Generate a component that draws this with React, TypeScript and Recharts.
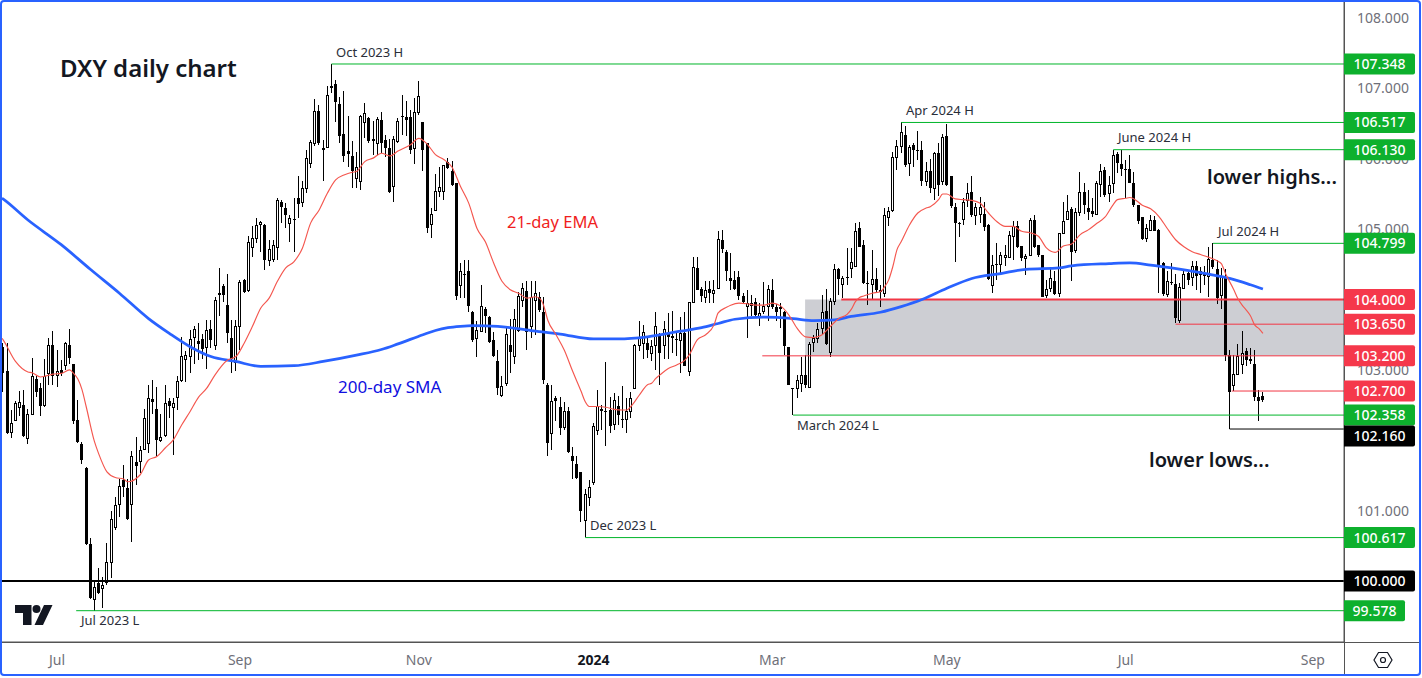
import { Bar, ComposedChart, Line, ReferenceArea, ReferenceLine, XAxis, YAxis } from 'recharts';

// daily OHLC, one row of ten bars per line
const opens = [
  103.33,102.98,102.12,102.29,102.48,102.50,102.03,102.38,102.87,102.74,
  102.50,102.96,103.36,102.93,103.00,103.07,103.36,103.08,102.29,101.95,
  101.60,100.52,99.75,99.97,99.90,99.99,100.27,100.77,101.09,101.44,
  101.32,101.10,101.69,101.70,101.87,101.96,102.59,102.45,102.01,102.07,
  102.56,102.48,102.62,102.85,103.15,103.20,103.47,103.41,103.44,103.33,
  103.58,103.36,104.10,104.19,103.92,103.45,103.11,103.62,104.28,104.13,
  104.75,104.87,105.07,105.06,104.56,104.58,104.74,105.39,105.30,105.09,
  105.14,105.44,105.38,105.58,105.94,106.22,106.68,106.16,106.17,107.03,
  107.07,106.78,106.36,106.11,106.04,105.73,105.68,106.53,106.58,106.28,
  106.22,106.55,106.27,106.16,105.61,106.25,106.61,106.59,106.59,106.16,
  106.67,106.52,106.22,105.07,105.27,105.54,105.54,105.95,105.82,105.65,
  104.21,104.37,104.40,103.83,103.46,103.55,103.87,103.75,103.42,103.13,
  102.64,102.82,103.36,103.20,103.57,104.00,104.12,103.63,104.00,104.04,
  103.82,102.79,102.10,102.60,102.47,102.19,102.41,101.78,101.66,101.55,
  100.86,101.20,101.41,102.15,102.45,102.41,102.43,102.23,102.49,102.30,
  102.30,102.42,102.74,103.36,103.38,103.38,103.24,103.36,103.51,103.36,
  103.52,103.48,103.44,103.42,103.52,102.99,103.96,104.45,104.15,104.03,
  104.15,104.09,104.17,104.85,104.67,104.30,104.28,104.32,104.05,103.91,
  103.92,103.96,103.77,103.84,103.91,104.14,103.89,103.89,103.82,103.32,
  102.74,102.74,102.82,102.93,102.76,103.39,103.45,103.59,103.84,103.25,
  103.98,104.43,104.22,104.32,104.45,104.48,105.01,104.78,104.24,104.22,
  104.29,104.14,104.10,105.18,105.27,106.02,106.18,106.34,105.94,106.20,
  106.13,106.12,105.69,105.83,105.58,106.09,105.68,106.33,105.75,105.31,
  105.09,105.14,105.41,105.53,105.20,105.21,105.22,105.06,104.20,104.51,
  104.50,104.60,104.61,104.90,105.04,104.76,104.59,104.64,105.13,104.78,
  104.64,104.06,104.17,104.26,104.10,104.94,105.15,105.28,104.70,105.24,
  105.53,105.30,105.26,105.21,105.64,105.84,105.51,105.66,106.07,105.93,
  105.85,105.85,105.66,105.34,105.17,104.87,104.99,105.13,104.99,104.52,
  104.08,104.25,104.22,103.71,104.16,104.38,104.32,104.48,104.36,104.36,
  104.34,104.56,104.43,104.07,104.32,103.21,102.78,102.94,103.09,103.27,
  103.15,103.09,102.61,102.63,
];
const closes = [
  102.95,102.11,102.24,102.53,102.54,102.06,102.38,102.91,102.69,102.49,
  102.91,103.36,102.91,102.99,102.96,103.38,103.17,102.27,101.97,101.72,
  100.52,99.76,99.91,99.83,99.94,100.27,100.88,101.08,101.35,101.34,
  100.88,101.78,101.63,101.86,102.31,102.60,102.54,102.01,102.05,102.53,
  102.49,102.53,102.84,103.20,103.21,103.44,103.58,103.37,103.30,103.57,
  103.42,104.00,104.07,104.06,103.53,103.16,103.63,104.25,104.11,104.82,
  104.87,105.06,105.10,104.56,104.72,104.78,105.42,105.32,105.20,105.16,
  105.13,105.36,105.58,106.01,106.24,106.68,106.22,106.12,106.91,107.00,
  106.81,106.33,106.04,106.07,105.82,105.89,106.61,106.65,106.25,106.26,
  106.56,106.22,106.16,105.53,106.28,106.54,106.59,106.55,106.12,106.66,
  106.90,106.12,105.02,105.21,105.54,105.60,105.91,105.87,105.63,104.05,
  104.40,104.36,103.91,103.43,103.57,103.91,103.77,103.40,103.20,102.75,
  102.77,103.51,103.26,103.72,104.05,104.16,103.54,104.04,104.10,103.85,
  102.86,101.96,102.56,102.56,102.17,102.42,101.84,101.70,101.46,100.99,
  101.23,101.33,102.20,102.49,102.42,102.40,102.20,102.57,102.36,102.29,
  102.42,102.60,103.36,103.45,103.54,103.28,103.34,103.63,103.24,103.58,
  103.47,103.46,103.42,103.52,103.06,103.96,104.46,104.14,104.05,104.13,
  104.09,104.14,104.86,104.72,104.40,104.27,104.15,104.05,103.97,103.95,
  103.95,103.78,103.81,103.91,104.15,103.89,103.83,103.87,103.34,102.79,
  102.73,102.86,102.93,102.78,103.37,103.45,103.58,103.82,103.37,103.98,
  104.43,104.29,104.30,104.30,104.54,104.97,104.75,104.23,104.22,104.29,
  104.13,104.11,105.20,105.26,106.02,106.18,106.38,105.91,106.17,106.12,
  106.12,105.68,105.83,105.58,106.09,105.63,106.31,105.63,105.33,105.09,
  105.08,105.38,105.51,105.20,105.31,105.31,105.03,104.29,104.49,104.50,
  104.64,104.63,104.92,105.05,104.74,104.59,104.62,105.13,104.74,104.63,
  104.04,104.15,104.30,104.08,104.94,105.11,105.26,104.68,105.25,105.53,
  105.35,105.25,105.22,105.65,105.83,105.48,105.63,106.06,105.94,105.85,
  105.84,105.66,105.35,105.12,104.86,105.01,105.13,104.98,104.49,104.08,
  104.26,104.24,103.74,104.18,104.37,104.28,104.48,104.34,104.41,104.33,
  104.58,104.46,104.02,104.34,103.21,102.68,102.94,103.20,103.24,103.14,
  103.13,102.61,102.56,102.57,
];
const highs = [
  103.38,103.38,102.43,102.56,102.70,102.72,102.45,103.17,102.91,102.81,
  103.15,103.45,103.55,103.28,103.14,103.39,103.58,103.09,102.57,101.97,
  101.62,100.61,100.02,100.18,100.06,100.54,100.99,101.20,101.45,101.65,
  101.45,101.85,102.05,101.92,102.45,102.78,102.86,102.76,102.38,102.79,
  102.60,102.60,102.91,103.47,103.27,103.57,103.62,103.67,103.51,103.71,
  103.71,104.04,104.45,104.22,104.36,103.71,103.71,104.28,104.29,104.90,
  105.04,105.16,105.11,105.07,104.85,104.85,105.45,105.42,105.37,105.20,
  105.44,105.75,105.68,106.13,106.27,106.85,106.77,106.27,107.03,107.35,
  107.12,106.88,106.97,106.61,106.25,106.10,106.63,106.80,106.60,106.54,
  106.60,106.67,106.34,106.28,106.32,106.58,106.91,106.82,106.70,106.86,
  107.11,106.53,106.23,105.30,105.78,105.88,105.91,106.01,105.97,105.66,
  104.52,104.56,104.56,103.84,103.70,104.21,103.90,103.76,103.54,103.28,
  102.91,103.59,103.73,103.86,104.11,104.23,104.26,104.27,104.27,104.11,
  104.03,102.81,102.78,102.63,102.62,102.55,102.47,101.90,101.78,101.55,
  101.31,101.44,102.25,102.72,102.50,103.11,102.62,102.67,102.63,102.77,
  102.60,102.68,103.37,103.69,103.64,103.45,103.43,103.82,103.52,103.69,
  103.81,103.84,103.52,103.75,103.83,103.97,104.60,104.60,104.18,104.26,
  104.27,104.28,104.98,104.99,104.71,104.66,104.40,104.41,104.09,104.14,
  104.07,104.02,103.95,104.25,104.21,104.29,103.94,103.95,103.84,103.33,
  102.74,102.93,103.18,103.21,103.40,103.50,103.66,104.07,104.15,104.02,
  104.51,104.45,104.33,104.73,104.73,105.09,105.10,104.85,104.40,104.71,
  104.45,104.21,105.30,105.32,106.10,106.27,106.52,106.46,106.20,106.22,
  106.40,106.25,105.96,106.00,106.10,106.22,106.36,106.50,105.75,105.37,
  105.10,105.44,105.65,105.75,105.37,105.46,105.38,105.07,104.64,104.81,
  104.68,104.78,104.97,105.12,105.11,104.76,104.65,105.16,105.20,104.78,
  104.64,104.28,104.46,104.40,104.94,105.39,105.49,105.32,105.30,105.81,
  105.66,105.56,105.44,105.68,105.93,105.89,105.75,106.13,106.10,106.13,
  105.99,106.06,105.81,105.35,105.18,105.07,105.20,105.19,105.00,104.54,
  104.40,104.52,104.36,104.23,104.42,104.40,104.55,104.55,104.46,104.47,
  104.75,104.80,104.56,104.45,104.43,103.28,103.21,103.37,103.55,103.31,
  103.31,103.28,102.72,102.69,
];
const lows = [
  102.68,102.09,102.03,102.27,102.34,102.04,101.94,102.37,102.62,102.34,
  102.47,102.79,102.79,102.76,102.91,103.00,103.09,102.23,101.96,101.66,
  100.51,99.75,99.58,99.82,99.61,99.94,100.04,100.73,100.91,101.20,
  100.87,100.56,101.36,101.54,101.86,101.82,102.37,101.77,101.98,102.05,
  102.31,101.79,102.43,102.83,102.83,102.96,103.08,103.14,103.15,103.02,
  103.31,103.28,103.76,103.97,103.38,102.95,102.98,103.28,104.10,104.11,
  104.61,104.80,104.68,104.42,104.47,104.53,104.56,105.09,105.01,104.82,
  104.68,105.16,105.32,105.51,105.87,106.18,106.20,105.68,106.15,106.93,
  106.52,106.22,105.96,105.89,105.58,105.58,105.55,106.29,106.22,106.06,
  106.06,106.08,106.02,105.52,105.38,106.22,106.34,106.33,106.07,105.92,
  106.63,105.82,104.95,104.87,105.26,105.46,105.41,105.85,105.61,104.00,
  104.02,104.02,103.83,103.39,103.19,103.54,103.52,103.38,103.19,102.64,
  102.62,102.77,102.95,103.08,103.54,103.89,103.28,103.45,103.50,103.83,
  102.80,101.78,101.86,102.27,102.08,102.15,101.82,101.45,101.45,100.84,
  100.62,101.07,101.36,102.08,102.15,101.92,102.10,102.15,102.22,102.17,
  102.10,102.31,102.73,103.27,103.16,103.17,103.13,103.00,102.78,103.15,
  103.15,103.24,103.20,102.95,103.05,102.91,103.95,104.13,103.96,103.95,
  103.95,103.95,104.16,104.66,104.26,104.14,104.14,104.00,103.95,103.45,
  103.76,103.74,103.62,103.80,103.69,103.86,103.69,103.59,103.21,102.78,
  102.36,102.60,102.68,102.74,102.74,103.26,103.38,103.50,103.36,103.19,
  103.92,104.07,104.02,104.21,104.30,104.47,104.74,104.22,103.92,104.00,
  104.11,103.89,104.04,105.04,105.25,105.84,106.08,105.88,105.75,105.89,
  105.99,105.62,105.61,105.51,105.42,105.47,105.63,105.62,105.30,104.54,
  104.89,105.06,105.31,105.18,105.06,105.09,104.97,104.28,104.10,104.28,
  104.37,104.47,104.60,104.56,104.73,104.55,104.35,104.62,104.73,104.61,
  104.03,104.02,104.11,104.07,104.03,104.93,105.13,104.27,104.66,105.19,
  105.22,105.13,105.17,105.20,105.46,105.46,105.38,105.52,105.80,105.75,
  105.44,105.65,105.32,105.07,104.85,104.82,104.98,104.97,104.09,104.05,
  104.04,104.21,103.67,103.66,104.15,104.21,104.19,104.14,104.10,104.21,
  104.04,104.44,103.94,103.87,103.13,102.16,102.70,102.93,102.94,103.06,
  103.09,102.56,102.28,102.54,
];

// moving averages at these bars
const emaBars = [0,3,6,7,9,10,12,14,16,17,18,19,20,22,23,25,27,29,30,33,35,37,39,41,43,45,47,49,51,54,56,58,60,62,64,66,68,70,72,74,76,78,80,82,84,85,87,89,91,93,95,98,100,102,104,106,108,110,112,114,116,118,120,122,124,126,128,129,130,131,133,135,137,139,140,141,143,145,147,149,150,151,153,155,156,157,158,160,162,164,165,167,169,171,172,174,175,177,179,181,183,185,187,189,191,193,195,197,199,201,203,204,205,206,207,209,211,212,213,214,215,216,218,220,222,223,225,226,227,229,231,233,235,237,239,241,243,245,247,249,251,253,255,257,259,261,263,265,267,268,270,271,272,274,276,278,280,282,284,286,288,290,292,293,294,296,297,298,299,300,301,302,303];
const emaValues = [103.43,103.12,102.97,102.96,102.90,102.91,102.94,102.95,103.00,102.95,102.87,102.72,102.48,101.98,101.81,101.55,101.47,101.45,101.41,101.51,101.72,101.77,101.89,102.01,102.22,102.41,102.61,102.74,102.93,103.14,103.19,103.38,103.62,103.88,104.02,104.26,104.45,104.54,104.73,105.09,105.27,105.51,105.70,105.77,105.81,105.82,105.96,106.01,106.08,106.04,106.11,106.20,106.29,106.21,106.06,105.99,105.88,105.61,105.37,105.01,104.82,104.52,104.26,104.14,104.09,104.02,104.04,104.02,103.92,103.71,103.50,103.28,102.98,102.70,102.55,102.48,102.48,102.47,102.44,102.43,102.43,102.48,102.64,102.79,102.81,102.88,102.93,103.02,103.07,103.14,103.21,103.43,103.50,103.64,103.81,103.89,103.92,103.95,103.94,103.92,103.92,103.95,103.91,103.78,103.59,103.47,103.46,103.50,103.62,103.73,103.79,103.86,103.97,104.03,104.05,104.09,104.11,104.18,104.28,104.47,104.71,104.82,105.06,105.23,105.30,105.32,105.42,105.50,105.50,105.43,105.42,105.41,105.37,105.23,105.11,105.04,105.04,104.97,104.95,104.90,104.73,104.67,104.76,104.79,104.92,104.99,105.08,105.17,105.35,105.42,105.44,105.45,105.43,105.34,105.29,105.18,105.01,104.85,104.75,104.68,104.64,104.60,104.55,104.51,104.37,104.14,104.01,103.92,103.85,103.77,103.64,103.59,103.52];
const smaBars = [0,6,14,21,28,35,40,45,50,56,62,70,77,85,91,95,101,104,107,110,113,119,127,134,142,148,155,163,168,172,176,183,190,195,200,204,211,216,221,227,233,240,246,254,257,266,271,276,281,290,295,300,303];
const smaValues = [105.43,105.13,104.78,104.43,104.09,103.73,103.52,103.33,103.19,103.12,103.05,103.06,103.12,103.21,103.29,103.37,103.50,103.56,103.60,103.62,103.63,103.62,103.56,103.51,103.44,103.44,103.47,103.55,103.60,103.66,103.72,103.75,103.73,103.70,103.71,103.76,103.82,103.90,104.00,104.16,104.30,104.37,104.43,104.45,104.48,104.51,104.52,104.49,104.45,104.36,104.30,104.21,104.15];
// where both averages enter at the left edge of the plot
const smaAtEdge = 105.44;
const emaAtEdge = 103.45;

// horizontal levels and the bar each one starts from
const X_MIN = -0.24;
const X_MAX = 322.5;
const greenLevels = [107.348, 106.517, 106.13, 104.799, 102.358, 100.617, 99.578];
const greenStarts = [79, 216, 267, 291, 190, 140, 17.6];
const redLevels = [104, 103.65, 103.2, 102.7];
const redStarts = [201.6, 282, 182.6, 295.5];
const blackLevels = [102.16, 100];
const blackStarts = [295, X_MIN];

const priceTicks = [108, 107, 106, 105, 103, 101];
const monthBars = [13, 57, 100, 142, 185, 227, 270, 315];
const monthLabels = ['Jul', 'Sep', 'Nov', '2024', 'Mar', 'May', 'Jul', 'Sep'];

const zoneTop = 104;
const zoneBottom = 103.2;
const zoneStart = 192.9;

const GREEN = '#00b52a';
const GREEN_TAG = '#0db02d';
const RED = '#f23645';
const RED_TAG = '#f5384b';
const FONT = '"Noto Sans", sans-serif';

const rows: any[] = [
  { bar: X_MIN, ema: emaAtEdge, sma: smaAtEdge },
  ...opens.map((open, i) => {
    const e = emaBars.indexOf(i);
    const s = smaBars.indexOf(i);
    return {
      bar: i,
      open,
      close: closes[i],
      high: highs[i],
      low: lows[i],
      range: [lows[i], highs[i]],
      ema: e >= 0 ? emaValues[e] : null,
      sma: s >= 0 ? smaValues[s] : null,
    };
  }),
];

const tagColor = (v: number) => {
  if (greenLevels.includes(v)) return GREEN_TAG;
  if (redLevels.includes(v)) return RED_TAG;
  return '#000';
};

const Candle = (props: any) => {
  const { x, y, width, height, payload } = props;
  if (!payload || payload.open === undefined) return null;
  const cx = Math.floor(x + width / 2) + 0.5;
  const span = payload.high - payload.low || 0.01;
  const toY = (p: number) => y + ((payload.high - p) / span) * height;
  const up = payload.close >= payload.open;
  const top = Math.round(toY(Math.max(payload.open, payload.close)));
  const bottom = Math.round(toY(Math.min(payload.open, payload.close)));
  return (
    <g shapeRendering="crispEdges">
      <line x1={cx} x2={cx} y1={y} y2={y + height} stroke="#000" />
      {up ? (
        <rect x={cx - 1} y={top + 0.5} width={2} height={Math.max(bottom - top, 1)} fill="#fff" stroke="#000" />
      ) : (
        <rect x={cx - 1.5} y={top} width={3} height={Math.max(bottom - top, 1)} fill="#000" />
      )}
    </g>
  );
};

const PriceTick = ({ x, y, payload }: any) => {
  const v = payload.value;
  if (priceTicks.includes(v)) {
    return (
      <text x={x + 39} y={y + 5} textAnchor="middle" fontSize={14} fontFamily={FONT} fill="#6f7079">
        {v.toFixed(3)}
      </text>
    );
  }
  const short = v < 100;
  // the 102.160 tag gets pushed down so it clears the 102.358 tag above it
  const cy = v === 102.16 ? y + 7 : y;
  return (
    <g>
      <path
        d={`M${x} ${cy - 10.5}h${short ? 59 : 69}a2 2 0 0 1 2 2v17a2 2 0 0 1 -2 2h-${short ? 59 : 69}z`}
        fill={tagColor(v)}
      />
      <text x={x + (short ? 30.5 : 35.5)} y={cy + 5} textAnchor="middle" fontSize={14} fontWeight={500} fontFamily={FONT} fill="#fff">
        {v.toFixed(3)}
      </text>
    </g>
  );
};

const MonthTick = ({ x, y, index }: any) => (
  <text
    x={x}
    y={y + 15}
    textAnchor="middle"
    fontSize={14}
    fontFamily={FONT}
    fontWeight={monthLabels[index] === '2024' ? 700 : 400}
    fill={monthLabels[index] === '2024' ? '#131722' : '#6f7079'}
  >
    {monthLabels[index]}
  </text>
);

const note = (x: number, y: number, label: string) => (
  <text x={x} y={y} fontSize={13} fontFamily={FONT} fill="#2a2e39">
    {label}
  </text>
);

const levelLine = (price: number, start: number, color: string, width: number) => (
  <ReferenceLine
    key={price}
    segment={[{ x: start, y: price }, { x: X_MAX, y: price }]}
    stroke={color}
    strokeWidth={width}
  />
);

export default function App() {
  return (
    <div style={{ position: 'absolute', left: 0, top: 0, width: 1422, height: 678, background: '#fff' }}>
      <ComposedChart
        width={1422}
        height={677}
        data={rows}
        margin={{ top: 2, right: 0, bottom: 0, left: 2 }}
      >
        <XAxis
          type="number"
          dataKey="bar"
          domain={[X_MIN, X_MAX]}
          ticks={monthBars}
          interval={0}
          tick={<MonthTick />}
          tickLine={false}
          height={35}
          stroke="#555"
        />
        <YAxis
          orientation="right"
          type="number"
          domain={[99.133, 108.229]}
          ticks={[...priceTicks, ...greenLevels, ...redLevels, ...blackLevels]}
          interval={0}
          width={78}
          tick={<PriceTick />}
          tickLine={false}
          tickSize={0}
          tickMargin={0}
          stroke="#555"
          allowDataOverflow
        />
        <ReferenceArea x1={zoneStart} x2={X_MAX} y1={zoneBottom} y2={zoneTop} fill="#cdced3" fillOpacity={1} stroke="none" />
        {greenLevels.map((p, i) => levelLine(p, greenStarts[i], GREEN, 1))}
        {redLevels.map((p, i) => levelLine(p, redStarts[i], RED, p === 104 ? 2 : 1))}
        {blackLevels.map((p, i) => levelLine(p, blackStarts[i], '#000', p === 100 ? 2 : 1))}
        <Bar dataKey="range" barSize={3} shape={<Candle />} isAnimationActive={false} />
        <Line dataKey="sma" type="monotone" stroke="#2962ff" strokeWidth={2.75} dot={false} connectNulls isAnimationActive={false} />
        <Line dataKey="ema" type="monotone" stroke="#f4574f" strokeWidth={1.15} dot={false} connectNulls isAnimationActive={false} />

        <text x={60} y={77} fontSize={24} fontWeight={600} fontFamily={FONT} fill="#131722">DXY daily chart</text>
        {note(336, 57, 'Oct 2023 H')}
        {note(906, 115, 'Apr 2024 H')}
        {note(1118, 142, 'June 2024 H')}
        {note(1218, 236, 'Jul 2024 H')}
        {note(797, 430, 'March 2024 L')}
        {note(590, 530, 'Dec 2023 L')}
        {note(81, 625, 'Jul 2023 L')}
        <text x={1207} y={184} fontSize={20} fontWeight={600} fontFamily={FONT} fill="#131722">lower highs...</text>
        <text x={1149} y={467} fontSize={20} fontWeight={600} fontFamily={FONT} fill="#131722">lower lows...</text>
        <text x={507} y={228} fontSize={16.5} fontFamily={FONT} fill="#f01e1e">21-day EMA</text>
        <text x={338} y={393} fontSize={17} fontFamily={FONT} fill="#1010e0">200-day SMA</text>

        {/* logo and the axis corner */}
        <path d="M15 605h16.5v20h-8.5v-12h-8z M44 605h8.5l-9.5 20h-8.5z" fill="#131722" />
        <circle cx={36.5} cy={609} r={4} fill="#131722" />
        <line x1={2} x2={1420} y1={642.5} y2={642.5} stroke="#555" />
        <line x1={1344.5} x2={1344.5} y1={2} y2={675} stroke="#555" />
        <path d="M1378.5 652.5h9l4.5 7.5-4.5 7.5h-9l-4.5-7.5z" fill="none" stroke="#131722" strokeWidth={1.2} />
        <circle cx={1383} cy={660} r={2.5} fill="none" stroke="#131722" strokeWidth={1.2} />
      </ComposedChart>
      <div
        style={{
          position: 'absolute',
          left: 0,
          top: 0,
          width: 1421,
          height: 676,
          boxSizing: 'border-box',
          border: '2px solid #2962ff',
          borderRadius: 4,
          pointerEvents: 'none',
        }}
      />
    </div>
  );
}
